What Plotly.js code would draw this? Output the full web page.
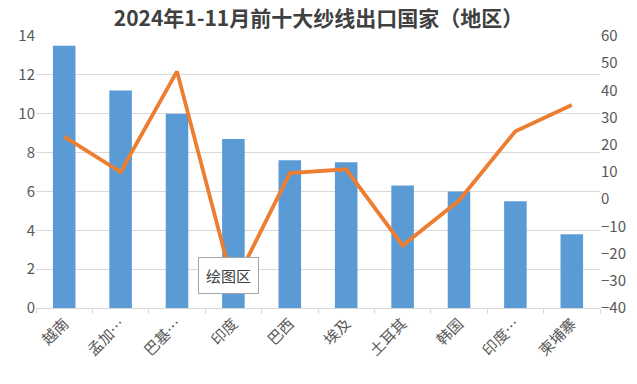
<!DOCTYPE html>
<html>
<head>
<meta charset="utf-8">
<script src="https://cdn.plot.ly/plotly-3.0.1.min.js"></script>
<style>html,body{margin:0;padding:0;background:#fff;}#chart{width:637px;height:384px;}</style>
</head>
<body>
<div id="chart"></div>
<script>
var categories = ["越南", "孟加…", "巴基…", "印度", "巴西", "埃及", "土耳其", "韩国", "印度…", "柬埔寨"];
var exportValues = [13.5, 11.2, 10.0, 8.7, 7.6, 7.5, 6.3, 6.0, 5.5, 3.8];
var growthRates = [23, 10, 47, -32, 9.6, 11, -17, -0.5, 25, 34.6];
var leftTicks = [0, 2, 4, 6, 8, 10, 12, 14];
var rightTicks = [-40, -30, -20, -10, 0, 10, 20, 30, 40, 50, 60];

var font = "'Noto Sans CJK SC', 'Noto Sans', sans-serif";
var data = [
  {
    type: "bar", x: categories, y: exportValues,
    marker: {color: "#5B9BD5"}, hoverinfo: "x+y"
  },
  {
    type: "scatter", mode: "lines", x: categories, y: growthRates, yaxis: "y2",
    line: {color: "#ED7D31", width: 3.8}
  }
];
var layout = {
  width: 637, height: 384,
  margin: {l: 36, r: 37, t: 36, b: 76},
  paper_bgcolor: "#fff", plot_bgcolor: "#fff",
  showlegend: false,
  bargap: 0.6,
  title: {text: "<b>2024年1-11月前十大纱线出口国家（地区）</b>", x: 0.5, xanchor: "center", y: 0.952, yanchor: "middle",
          font: {family: font, size: 21, color: "#404040"}},
  font: {family: font, color: "#595959"},
  xaxis: {
    type: "category", tickangle: -45, tickfont: {size: 15, color: "#595959"},
    showline: true, linecolor: "#d9d9d9", linewidth: 1,
    ticks: "outside", tickson: "boundaries", ticklen: 5, tickcolor: "#d9d9d9",
    showgrid: false
  },
  yaxis: {
    range: [0, 14], tickvals: leftTicks, tickfont: {size: 15, color: "#595959"},
    showgrid: true, gridcolor: "#d9d9d9", zeroline: false, ticks: "", ticklen: 0,
    showline: false
  },
  yaxis2: {
    overlaying: "y", side: "right", range: [-40, 60], tickvals: rightTicks,
    tickfont: {size: 15, color: "#595959"}, showgrid: false, zeroline: false, showline: false
  },
  annotations: [{
    text: "绘图区", xref: "paper", yref: "paper", x: 0.342, y: 0.121,
    xanchor: "center", yanchor: "middle",
    showarrow: false, bgcolor: "#ffffff", bordercolor: "#a6a6a6", borderwidth: 1, borderpad: 7,
    font: {family: font, size: 15, color: "#404040"}
  }]
};
Plotly.newPlot("chart", data, layout, {displayModeBar: false, staticPlot: true});
</script>
</body>
</html>
